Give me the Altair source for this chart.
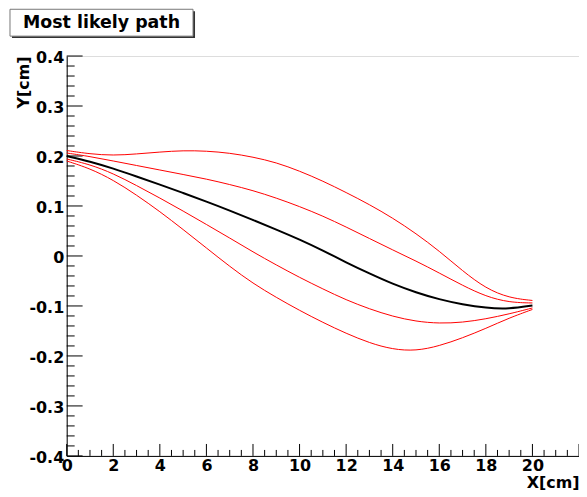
import altair as alt
import pandas as pd

# ---- data ----
X_VALUES = [0, 1, 2, 3, 4, 5, 6, 7, 8, 9, 10, 11, 12, 13, 14, 15, 16, 17, 18, 19, 20]
BLACK_Y = [0.200, 0.189, 0.175, 0.159, 0.143, 0.126, 0.109, 0.091, 0.072, 0.053, 0.033,
           0.011, -0.013, -0.035, -0.056, -0.073, -0.087, -0.097, -0.104, -0.106, -0.099]
RED_A = [0.211, 0.204, 0.201, 0.204, 0.208, 0.211, 0.210, 0.206, 0.198, 0.187, 0.170,
         0.150, 0.127, 0.103, 0.076, 0.045, 0.010, -0.030, -0.065, -0.084, -0.089]
RED_B = [0.206, 0.199, 0.190, 0.181, 0.172, 0.163, 0.154, 0.143, 0.131, 0.116, 0.099,
         0.080, 0.058, 0.035, 0.012, -0.010, -0.034, -0.059, -0.081, -0.093, -0.094]
RED_C = [0.194, 0.183, 0.165, 0.141, 0.116, 0.090, 0.063, 0.036, 0.008, -0.018, -0.043,
         -0.066, -0.088, -0.106, -0.121, -0.131, -0.135, -0.133, -0.126, -0.116, -0.104]
RED_D = [0.190, 0.175, 0.152, 0.122, 0.089, 0.053, 0.016, -0.021, -0.055, -0.083, -0.109,
         -0.133, -0.155, -0.174, -0.187, -0.190, -0.180, -0.164, -0.145, -0.124, -0.107]

X_LABELS = [0, 2, 4, 6, 8, 10, 12, 14, 16, 18, 20]
Y_LABELS = [-0.4, -0.3, -0.2, -0.1, 0, 0.1, 0.2, 0.3, 0.4]
X_MAJOR_TICKS = [0, 2, 4, 6, 8, 10, 12, 14, 16, 18, 20, 22]
X_MINOR_TICKS = [i / 2 for i in range(45) if i % 4]
Y_MAJOR_TICKS = Y_LABELS
Y_MINOR_TICKS = [round(-0.4 + 0.02 * i, 2) for i in range(41) if i % 5]

TITLE = "Most likely path"

W, H = 515, 402
FONT = "DejaVu Sans"

red_df = pd.concat([
    pd.DataFrame({"x": X_VALUES, "y": vals, "s": name})
    for name, vals in [("a", RED_A), ("b", RED_B), ("c", RED_C), ("d", RED_D)]
])
black_df = pd.DataFrame({"x": X_VALUES, "y": BLACK_Y})

xscale = alt.Scale(domain=[0, 22], nice=False, zero=False)
yscale = alt.Scale(domain=[-0.4, 0.4], nice=False, zero=False)

x_axis = alt.Axis(values=X_LABELS, tickSize=0, grid=False, domain=True, domainColor="black",
                  labelFont=FONT, labelFontWeight="bold", labelFontSize=16, labelColor="black",
                  labelPadding=2, labelFlush=False, labelOverlap=False,
                  title="X[cm]", titleFont=FONT, titleFontWeight="bold", titleFontSize=16,
                  titleColor="black", titleX=W, titleY=32, titleAlign="right",
                  titleBaseline="alphabetic", titleAnchor="end")
y_axis = alt.Axis(values=Y_LABELS, tickSize=0, grid=False, domain=True, domainColor="black",
                  labelExpr="'' + datum.value",
                  labelFont=FONT, labelFontWeight="bold", labelFontSize=16, labelColor="black",
                  labelPadding=3, labelFlush=False, labelOverlap=False, labelOffset=2,
                  title="Y[cm]", titleFont=FONT, titleFontWeight="bold", titleFontSize=16,
                  titleColor="black", titleX=-38, titleY=0, titleAngle=-90, titleAlign="right",
                  titleBaseline="alphabetic", titleAnchor="end")

red = alt.Chart(red_df).mark_line(color="#ff0000", strokeWidth=1, interpolate="basis").encode(
    x=alt.X("x:Q", scale=xscale, axis=x_axis),
    y=alt.Y("y:Q", scale=yscale, axis=y_axis),
    detail="s:N",
)
black = alt.Chart(black_df).mark_line(color="black", strokeWidth=2, interpolate="basis").encode(
    x=alt.X("x:Q", scale=xscale),
    y=alt.Y("y:Q", scale=yscale),
)

def xticks(vals, length):
    return alt.Chart(pd.DataFrame({"x": vals})).mark_rule(color="black", strokeWidth=1).encode(
        x=alt.X("x:Q", scale=xscale),
        y=alt.value(H), y2=alt.value(H - length),
    )

def yticks(vals, length):
    return alt.Chart(pd.DataFrame({"y": vals})).mark_rule(color="black", strokeWidth=1).encode(
        y=alt.Y("y:Q", scale=yscale),
        x=alt.value(0), x2=alt.value(length),
    )

title_df = pd.DataFrame({"t": [TITLE]})
shadow = alt.Chart(title_df).mark_rect(color="#333333").encode(
    x=alt.value(-55), x2=alt.value(129), y=alt.value(-45), y2=alt.value(-18))
box = alt.Chart(title_df).mark_rect(fill="white", stroke="#777777", strokeWidth=1).encode(
    x=alt.value(-57), x2=alt.value(127), y=alt.value(-47), y2=alt.value(-20))
title_text = alt.Chart(title_df).mark_text(font=FONT, fontWeight="bold", fontSize=17.5,
                                            color="black", align="center", baseline="middle").encode(
    text="t:N", x=alt.value(35), y=alt.value(-33))

chart = alt.layer(
    xticks(X_MINOR_TICKS, 6), xticks(X_MAJOR_TICKS, 12),
    yticks(Y_MINOR_TICKS, 8), yticks(Y_MAJOR_TICKS, 16),
    red, black, shadow, box, title_text,
).properties(
    width=W, height=H,
    autosize=alt.AutoSizeParams(type="none"),
    padding={"left": 59, "top": 47, "right": 0, "bottom": 36},
).configure_view(stroke="#555555", strokeWidth=1).configure(background="white")

chart.save("out.html", embed_options={"renderer": "svg", "actions": False})
